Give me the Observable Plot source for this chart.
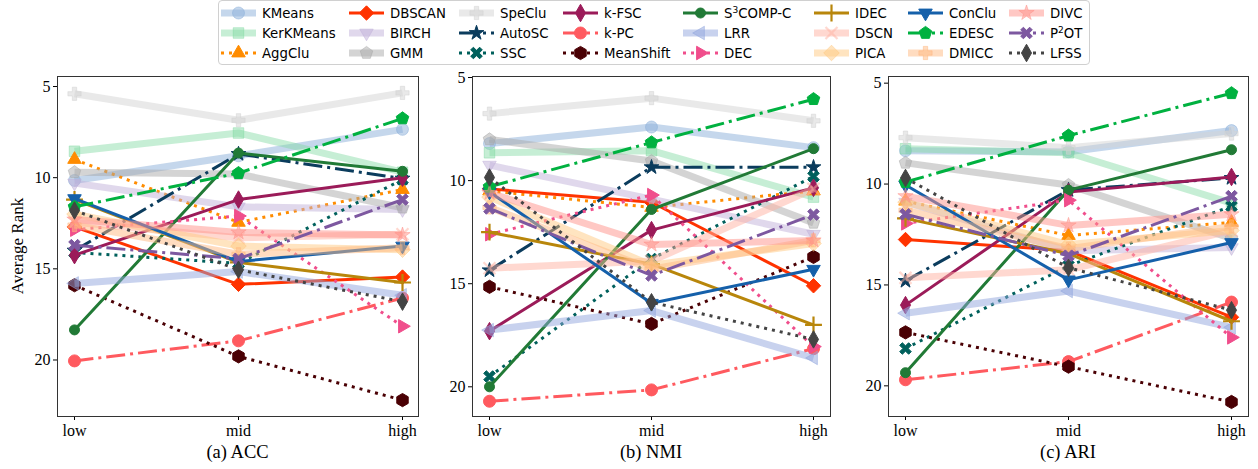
<!DOCTYPE html>
<html><head><meta charset="utf-8">
<script src="https://cdn.jsdelivr.net/npm/d3@7"></script>
<script src="https://cdn.jsdelivr.net/npm/@observablehq/plot@0.6"></script>
<style>
html,body{margin:0;padding:0;background:#fff;}
#root{position:relative;width:1258px;height:469px;overflow:hidden;font-family:"Liberation Serif","Times New Roman",serif;color:#000;}
.panel{position:absolute;top:66px;}
.cap{position:absolute;top:441px;font-size:18.5px;line-height:22px;text-align:center;width:200px;white-space:nowrap;}
#ylab{position:absolute;left:18px;top:246px;transform:translate(-50%,-50%) rotate(-90deg);font-size:17px;white-space:nowrap;}
#legend{position:absolute;left:218px;top:0;width:872px;height:65px;border:1px solid #d0d0d0;border-radius:4px;box-sizing:border-box;font-family:"DejaVu Sans",sans-serif;font-size:13.3px;background:#fff;}
.item{position:absolute;height:20px;display:flex;align-items:center;white-space:nowrap;}
.item svg{flex:none;}
.item span{margin-left:5px;}
sup{font-size:0.68em;vertical-align:0.5em;line-height:0;}
</style></head>
<body>
<div id="root">
  <div id="legend"></div>
  <div id="ylab">Average Rank</div>
  <div id="pa" class="panel"></div>
  <div id="pb" class="panel"></div>
  <div id="pc" class="panel"></div>
  <div class="cap" style="left:137.5px">(a) ACC</div>
  <div class="cap" style="left:551px">(b) NMI</div>
  <div class="cap" style="left:968px">(c) ARI</div>
</div>
<script>
// ---------- data ----------
const levels = ["low", "mid", "high"];
const methods = ["KMeans","KerKMeans","AggClu","DBSCAN","BIRCH","GMM","SpeClu","AutoSC","SSC","k-FSC","k-PC","MeanShift",
  "S³COMP-C","LRR","DEC","IDEC","DSCN","PICA","ConClu","EDESC","DMICC","DIVC","P²OT","LFSS"];
const legendLabels = ["KMeans","KerKMeans","AggClu","DBSCAN","BIRCH","GMM","SpeClu","AutoSC","SSC","k-FSC","k-PC","MeanShift",
  "S<sup>3</sup>COMP-C","LRR","DEC","IDEC","DSCN","PICA","ConClu","EDESC","DMICC","DIVC","P<sup>2</sup>OT","LFSS"];
const yTicks = [5, 10, 15, 20];

// average rank per method: [low, mid, high]
const accRanks = [
  [10.15, 8.8, 7.35], [8.55, 7.55, 9.7], [9.0, 12.45, 10.65], [12.7, 15.85, 15.45],
  [10.3, 11.6, 11.75], [9.7, 9.8, 11.65], [5.4, 6.85, 5.35], [14.0, 8.7, 10.05],
  [14.1, 14.7, 10.1], [14.25, 11.2, 10.0], [20.05, 18.95, 16.6], [15.9, 19.8, 22.2],
  [18.35, 8.65, 9.65], [15.8, 15.15, 16.45], [12.85, 12.1, 18.15], [11.2, 14.65, 15.75],
  [12.45, 13.3, 13.1], [12.0, 13.75, 13.95], [11.15, 14.6, 13.75], [11.6, 9.75, 6.75],
  [12.6, 14.2, 13.85], [12.3, 13.0, 13.15], [13.7, 14.45, 11.2], [11.8, 15.05, 16.8]
];
const nmiRanks = [
  [8.2, 7.4, 8.4], [8.65, 8.55, 10.8], [10.5, 11.3, 10.5], [10.4, 11.05, 15.1],
  [9.25, 10.9, 12.6], [8.0, 9.05, 12.05], [6.75, 6.0, 7.1], [14.35, 9.35, 9.35],
  [19.5, 13.8, 9.8], [17.3, 12.4, 10.35], [20.7, 20.15, 18.15], [15.15, 16.95, 13.7],
  [20.0, 11.4, 8.45], [17.25, 16.3, 18.6], [12.6, 10.7, 18.05], [12.5, 14.05, 17.0],
  [14.25, 13.9, 10.4], [10.8, 14.1, 13.05], [10.55, 15.95, 14.3], [10.3, 8.15, 6.05],
  [11.3, 14.3, 12.9], [10.6, 13.1, 12.9], [11.35, 14.6, 11.65], [9.85, 15.9, 17.7]
];
const ariRanks = [
  [8.35, 8.4, 7.35], [8.25, 8.45, 10.95], [10.85, 12.55, 11.9], [12.75, 13.3, 16.6],
  [10.9, 13.3, 13.15], [8.95, 10.05, 12.7], [7.7, 8.2, 7.5], [14.8, 10.3, 9.7],
  [18.15, 14.05, 11.1], [16.0, 10.4, 9.65], [19.7, 18.8, 15.85], [17.35, 19.05, 20.8],
  [19.35, 10.3, 8.3], [16.4, 15.3, 17.1], [11.95, 10.8, 17.6], [11.7, 13.45, 16.8],
  [14.65, 14.25, 12.3], [10.9, 13.0, 12.3], [10.05, 14.75, 12.9], [9.9, 7.6, 5.5],
  [11.3, 13.2, 12.1], [10.6, 12.05, 11.5], [11.5, 13.55, 10.6], [9.7, 14.15, 16.25]
];

// ---------- symbols ----------
const polySym = pts => ({draw(ctx, size) {
  const r = Math.sqrt(size / Math.PI);
  pts.forEach(([x, y], k) => k ? ctx.lineTo(x * r, y * r) : ctx.moveTo(x * r, y * r));
  ctx.closePath();
}});
const ngon = (n, start, s) => polySym(d3.range(n).map(k => {
  const a = (start + 360 * k / n) * Math.PI / 180; return [s * Math.cos(a), s * Math.sin(a)];
}));
const rot = (pts, deg) => { const a = deg * Math.PI / 180, c = Math.cos(a), s = Math.sin(a);
  return pts.map(([x, y]) => [x * c - y * s, x * s + y * c]); };
const plusPts = (w, R) => [[-w,-R],[w,-R],[w,-w],[R,-w],[R,w],[w,w],[w,R],[-w,R],[-w,w],[-R,w],[-R,-w],[-w,-w]];
const SYM = {
  circle: d3.symbolCircle,
  square: polySym([[-.88,-.88],[.88,-.88],[.88,.88],[-.88,.88]]),
  triUp: ngon(3, -90, 1.3), triDown: ngon(3, 90, 1.3), triLeft: ngon(3, 180, 1.3), triRight: ngon(3, 0, 1.3),
  pentagon: ngon(5, -90, 1.1), hexagon: ngon(6, -90, 1.1),
  diamond: polySym([[0,-1.2],[1.2,0],[0,1.2],[-1.2,0]]),
  thinDiamond: polySym([[0,-1.25],[0.72,0],[0,1.25],[-0.72,0]]),
  star: d3.symbolStar,
  plusF: polySym(plusPts(0.36, 1.1)),
  xF: polySym(rot(plusPts(0.34, 1.15), 45)),
  plus: d3.symbolPlus, times: d3.symbolTimes
};
const DD = "19,5,3,5", DOT = "3,5";
const styles = [
  {c:"#8bafd9", w:7, a:0.5, s:"circle", r:6},
  {c:"#81d9a1", w:7, a:0.45, s:"square", r:6},
  {c:"#ff8c00", w:3, dash:DOT, s:"triUp", r:6},
  {c:"#ff3300", w:3, s:"diamond", r:6},
  {c:"#c1b1d9", w:7, a:0.5, s:"triDown", r:6},
  {c:"#a9a9a9", w:7, a:0.5, s:"pentagon", r:6},
  {c:"#d4d4d4", w:7, a:0.5, s:"plusF", r:6},
  {c:"#0b3c5d", w:3, dash:DD, s:"star", r:4.6},
  {c:"#00605c", w:3, dash:DOT, s:"xF", r:5.5},
  {c:"#9b1b59", w:3, s:"thinDiamond", r:7},
  {c:"#ff5a5f", w:3, dash:DD, s:"circle", r:6},
  {c:"#4a0004", w:3, dash:DOT, s:"hexagon", r:6},
  {c:"#217a36", w:3, s:"circle", r:5},
  {c:"#91a5dd", w:7, a:0.5, s:"triLeft", r:6},
  {c:"#f04e8c", w:3, dash:DOT, s:"triRight", r:6},
  {c:"#b8860b", w:3, s:"plus", r:5.5, line:true},
  {c:"#ffb1a1", w:7, a:0.5, s:"times", r:5.5, line:true},
  {c:"#ffc981", w:7, a:0.5, s:"diamond", r:6.5},
  {c:"#1560aa", w:3, s:"triDown", r:6},
  {c:"#00b140", w:3, dash:DD, s:"pentagon", r:6},
  {c:"#ffb981", w:7, a:0.5, s:"plusF", r:6},
  {c:"#ff9189", w:7, a:0.5, s:"star", r:4.8},
  {c:"#7d58a0", w:3, dash:DD, s:"xF", r:5.5},
  {c:"#444444", w:3, dash:DOT, s:"thinDiamond", r:7}
];

// ---------- panels ----------
function panel(el, ranks, domain, left, width) {
  const rows = methods.flatMap((m, i) => levels.map((lv, j) => ({i, level: lv, rank: ranks[i][j]})));
  const marks = [];
  methods.forEach((m, i) => {
    const st = styles[i], a = st.a ?? 1;
    const d = rows.filter(r => r.i === i);
    marks.push(Plot.line(d, {x: "level", y: "rank", stroke: st.c, strokeWidth: st.w, strokeOpacity: a,
      strokeDasharray: st.dash, strokeLinecap: "butt", strokeLinejoin: "round"}));
    marks.push(Plot.dot(d, {x: "level", y: "rank", symbol: SYM[st.s], r: st.r,
      fill: st.line ? "none" : st.c, fillOpacity: a, stroke: st.c, strokeOpacity: a,
      strokeWidth: st.line ? 2.2 : 1}));
  });
  marks.push(Plot.frame({stroke: "#333", strokeWidth: 1}));
  const svg = Plot.plot({
    width, height: 403, marginTop: 10, marginBottom: 53, marginLeft: 40, marginRight: 4,
    style: {fontFamily: "Liberation Serif, serif", fontSize: "16px", color: "#000", background: "transparent", overflow: "visible"},
    x: {type: "point", domain: levels, padding: 0.1, label: null, tickSize: 4, tickPadding: 4},
    y: {domain, reverse: true, ticks: yTicks, tickSize: 4, tickPadding: 3, label: null},
    marks
  });
  const host = document.getElementById(el);
  host.style.left = left + "px";
  host.appendChild(svg);
}
panel("pa", accRanks, [4.45, 23.1], 17, 405);
panel("pb", nmiRanks, [4.95, 21.44], 432, 402);
panel("pc", ariRanks, [4.67, 21.52], 848, 404);

// ---------- legend ----------
const colX = [2, 130, 240, 344, 464, 595, 689, 790];
const rowY = [2, 22, 42];
const leg = document.getElementById("legend");
methods.forEach((m, i) => {
  const st = styles[i], a = st.a ?? 1;
  const col = Math.floor(i / 3), row = i % 3;
  const item = document.createElement("div");
  item.className = "item";
  item.style.left = colX[col] + "px";
  item.style.top = rowY[row] + "px";
  const svg = d3.create("svg").attr("width", 36).attr("height", 20);
  svg.append("line").attr("x1", 0).attr("x2", 35).attr("y1", 10).attr("y2", 10)
    .attr("stroke", st.c).attr("stroke-width", st.w).attr("stroke-opacity", a)
    .attr("stroke-dasharray", st.dash || null);
  svg.append("path").attr("transform", "translate(17.5,10)")
    .attr("d", d3.symbol(SYM[st.s], st.r * st.r * Math.PI)())
    .attr("fill", st.line ? "none" : st.c).attr("fill-opacity", a)
    .attr("stroke", st.c).attr("stroke-opacity", a).attr("stroke-width", st.line ? 2.2 : 1);
  item.appendChild(svg.node());
  const span = document.createElement("span");
  span.innerHTML = legendLabels[i];
  item.appendChild(span);
  leg.appendChild(item);
});
</script>
</body></html>
